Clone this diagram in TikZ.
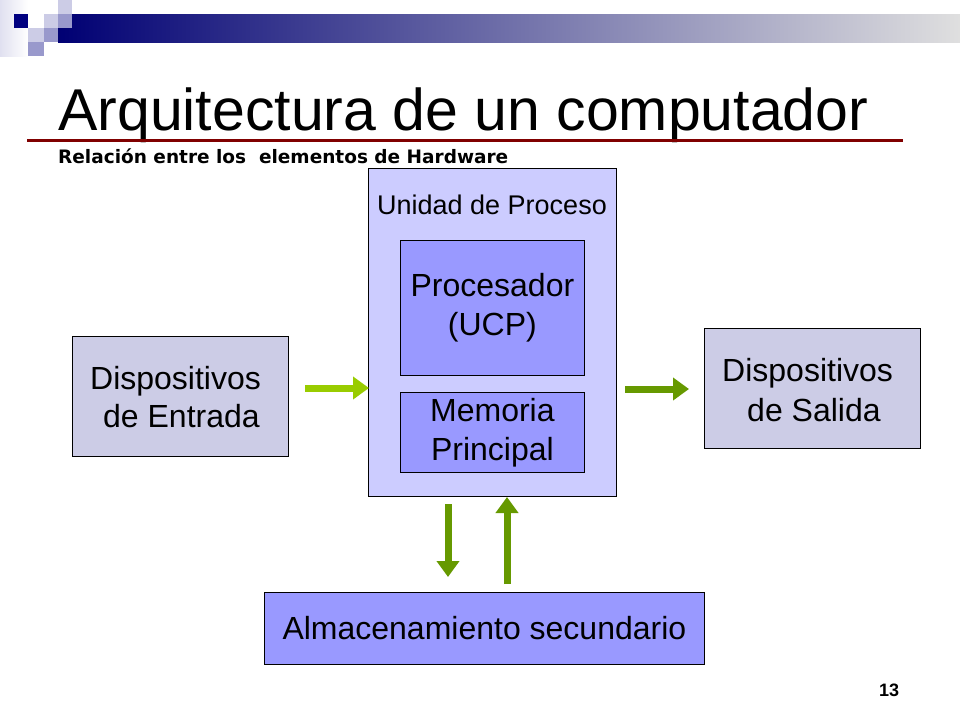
\documentclass[tikz,border=0pt]{standalone}
\usepackage{fontspec}
\setmainfont{Liberation Sans}
\newfontfamily\boldsub{DejaVu Sans}
\usetikzlibrary{arrows.meta}
\definecolor{navy}{RGB}{0,0,128}
\definecolor{lt}{RGB}{204,204,230}
\definecolor{md}{RGB}{153,153,204}
\definecolor{lav}{RGB}{204,204,255}
\definecolor{blu}{RGB}{153,153,255}
\definecolor{gry}{RGB}{204,204,230}
\definecolor{gA}{RGB}{153,204,0}
\definecolor{gB}{RGB}{102,153,0}
\definecolor{drd}{RGB}{128,0,0}
\tikzset{
 box/.style={draw=black, line width=0.8pt, inner sep=0pt, anchor=north west, font=\fontsize{32}{39}\selectfont, align=center},
 lbl/.style={anchor=base west, inner sep=0pt, font=\fontsize{32}{39}\selectfont},
 arr/.style={line width=7pt, -{Triangle[length=16pt,width=22pt]}},
}
\begin{document}
\begin{tikzpicture}[x=1pt,y=-1pt]
\useasboundingbox (0,0) rectangle (960,720);
\fill[white] (0,0) rectangle (960,720);
% decoration
\shade[left color=lt!60, right color=white] (0,0) rectangle (28,56);
\shade[left color=navy!90!black, right color=gray!25] (58,14) rectangle (960,42);
\fill[navy] (14,14) rectangle (28,28);
\fill[lt] (58,0) rectangle (72,14);
\fill[lt] (44,14) rectangle (58,28);
\fill[md] (58,14) rectangle (72,28);
\fill[lt] (28,28) rectangle (44,42);
\fill[md] (44,28) rectangle (58,42);
\fill[md] (28,42) rectangle (44,56);
% title
\node[anchor=base west, inner sep=0pt, font=\fontsize{59}{64}\selectfont] (title) at (58,130) {Arquitectura de un computador};
\draw[drd, line width=3pt] (27,140) -- (903,140);
\node[anchor=base west, inner sep=0pt, font=\boldsub\bfseries\fontsize{18.5}{20}\selectfont] (sub) at (58,163) {Relación entre los\ \ elementos de Hardware};
% boxes
\node[box, fill=lav, minimum width=248pt, minimum height=328pt] (up) at (368,168) {};
\node[anchor=base, inner sep=0pt, font=\fontsize{27}{30}\selectfont] (upl) at (492,214) {Unidad de Proceso};
\node[box, fill=blu, minimum width=184pt, minimum height=135pt] (proc) at (400,240) {Procesador\\(UCP)};
\node[box, fill=blu, minimum width=184pt, minimum height=80pt] (mem) at (400,392) {Memoria\\Principal};
\node[box, fill=gry, minimum width=216pt, minimum height=120pt] (ent) at (72,336) {};
\node[lbl] (ent1) at (90,389) {Dispositivos};
\node[lbl] (ent2) at (103,427) {de Entrada};
\node[box, fill=gry, minimum width=216pt, minimum height=120pt] (sal) at (704,328) {};
\node[lbl] (sal1) at (722,381) {Dispositivos};
\node[lbl] (sal2) at (747,421) {de Salida};
\node[box, fill=blu, minimum width=440pt, minimum height=72pt] (alm) at (264,592) {Almacenamiento secundario};
% arrows
\coordinate (a1) at (305,388); \coordinate (a2) at (369,388);
\coordinate (b1) at (625,389); \coordinate (b2) at (689,389);
\coordinate (c1) at (448,504); \coordinate (c2) at (448,577);
\coordinate (d1) at (507,584); \coordinate (d2) at (507,497);
\draw[arr, gA] (a1) -- (a2);
\draw[arr, gB] (b1) -- (b2);
\draw[arr, gB] (c1) -- (c2);
\draw[arr, gB] (d1) -- (d2);
\node[anchor=base, inner sep=0pt, font=\bfseries\fontsize{18}{20}\selectfont] (pg) at (889,696) {13};
\end{tikzpicture}
\end{document}
